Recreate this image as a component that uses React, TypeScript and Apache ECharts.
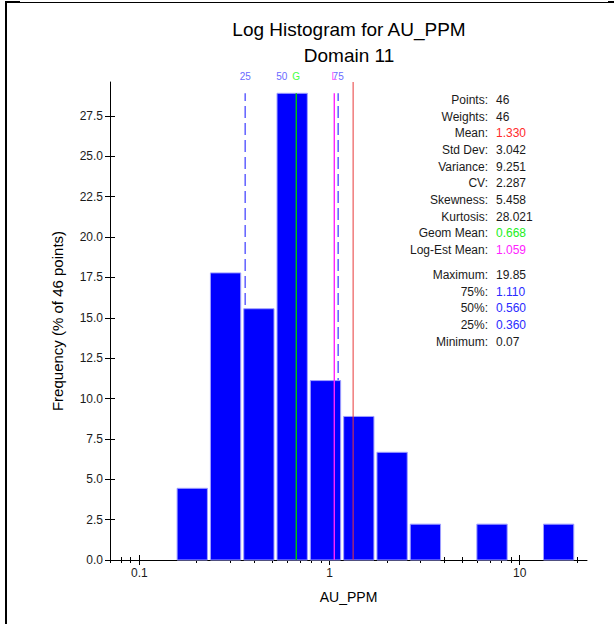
import { useEffect, useRef } from "react";
import * as echarts from "echarts";

// ---- data ----
const binMin = 0.07;
const binMax = 19.85;
const binFreq = [0, 0, 4.44, 17.78, 15.56, 28.9, 11.11, 8.89, 6.67, 2.22, 0, 2.22, 0, 2.22];
const xAxisMin = 0.07;
const xAxisMax = 22.6;
const yAxisMax = 29.6;
const refTop = 28.9;
const yTicks = [0, 2.5, 5, 7.5, 10, 12.5, 15, 17.5, 20, 22.5, 25, 27.5];
const xMajorTicks = [0.1, 1, 10];
const xMinorTicks = [0.07, 0.08, 0.09, 0.2, 0.3, 0.4, 0.5, 0.6, 0.7, 0.8, 0.9, 2, 3, 4, 5, 6, 7, 8, 9, 20];
const refValues = [0.36, 0.56, 1.11, 0.668, 1.059, 1.33];
const refLabels = ["25", "50", "75", "G", "L", ""];
const refKinds = ["q", "q", "q", "geom", "logest", "mean"];
const statLabels = ["Points:", "Weights:", "Mean:", "Std Dev:", "Variance:", "CV:", "Skewness:", "Kurtosis:", "Geom Mean:", "Log-Est Mean:"];
const statValues = ["46", "46", "1.330", "3.042", "9.251", "2.287", "5.458", "28.021", "0.668", "1.059"];
const statKinds = ["", "", "mean", "", "", "", "", "", "geom", "logest"];
const pctLabels = ["Maximum:", "75%:", "50%:", "25%:", "Minimum:"];
const pctValues = ["19.85", "1.110", "0.560", "0.360", "0.07"];
const pctKinds = ["", "q", "q", "q", ""];

const FONT = "'Liberation Sans', Arial, sans-serif";
const kindColor: Record<string, string> = {
  "": "#1a1a1a",
  mean: "#ff2a2a",
  geom: "#22ee22",
  logest: "#ff22ff",
  q: "#2a2aff",
};
const labelColor: Record<string, string> = {
  q: "#6a6aff",
  geom: "#44ff44",
  logest: "#ff55ff",
  mean: "#ff3333",
};

const lg = (v: number) => Math.log10(v);

export default function App() {
  const ref = useRef<HTMLDivElement>(null);
  useEffect(() => {
    if (!ref.current) return;
    const chart = echarts.init(ref.current, undefined, { renderer: "svg" });
    const lMin = lg(binMin);
    const w = (lg(binMax) - lMin) / binFreq.length;
    const barData = binFreq.map((f, i) => [lMin + i * w, lMin + (i + 1) * w, f]);
    const refData = refValues.map((v, i) => [lg(v), i]);

    const xBase = {
      type: "value",
      min: lg(xAxisMin),
      max: lg(xAxisMax),
      position: "bottom",
      offset: 0,
      splitLine: { show: false },
      axisLine: { show: false, onZero: false },
      axisLabel: { show: false },
    };
    const yBase = {
      type: "value",
      min: 0,
      max: yAxisMax,
      interval: 2.5,
      position: "left",
      offset: 0,
      splitLine: { show: false },
      axisLine: { show: false, onZero: false },
      axisLabel: { show: false },
    };

    const graphics: any[] = [
      { type: "rect", shape: { x: 5, y: 2, width: 2, height: 622 }, style: { fill: "#000" } },
      { type: "rect", shape: { x: 5, y: 2, width: 609, height: 1 }, style: { fill: "#000" } },
      { type: "rect", shape: { x: 5, y: 1, width: 15, height: 2 }, style: { fill: "#000" } },
      { type: "rect", shape: { x: 608, y: 1, width: 6, height: 2 }, style: { fill: "#000" } },
      {
        type: "text",
        x: 349,
        y: 29,
        style: { text: "Log Histogram for AU_PPM", align: "center", verticalAlign: "middle", fontSize: 19, fontFamily: FONT, fill: "#000" },
      },
      {
        type: "text",
        x: 349,
        y: 55,
        style: { text: "Domain 11", align: "center", verticalAlign: "middle", fontSize: 19, fontFamily: FONT, fill: "#000" },
      },
    ];
    const addStat = (lab: string, val: string, kind: string, y: number) => {
      graphics.push({
        type: "text",
        x: 488,
        y,
        style: { text: lab, align: "right", verticalAlign: "middle", fontSize: 12, fontFamily: FONT, fill: "#1a1a1a" },
      });
      graphics.push({
        type: "text",
        x: 496,
        y,
        style: { text: val, align: "left", verticalAlign: "middle", fontSize: 12, fontFamily: FONT, fill: kindColor[kind] },
      });
    };
    statLabels.forEach((l, i) => addStat(l, statValues[i], statKinds[i], 100 + i * 16.67));
    pctLabels.forEach((l, i) => addStat(l, pctValues[i], pctKinds[i], 275 + i * 16.67));

    const refRender = (solid: boolean) => (params: any, api: any) => {
      const idx = api.value(1);
      const kind = refKinds[idx];
      const isSolid = kind !== "q";
      if (isSolid !== solid) return { type: "group", children: [] };
      const x = api.value(0);
      const top = kind === "mean" ? yAxisMax : refTop;
      const p0 = api.coord([x, 0]);
      const p1 = api.coord([x, top]);
      const children: any[] = [
        {
          type: "line",
          shape: { x1: p0[0], y1: p0[1], x2: p1[0], y2: p1[1] },
          style: {
            stroke: kind === "q" ? "#6a6aff" : kind === "geom" ? "#00cc00" : kind === "logest" ? "#ff22ff" : "#e83a3a",
            lineWidth: kind === "q" ? 1.6 : kind === "mean" ? 1 : 1.4,
            lineDash: kind === "q" ? [12, 5] : null,
          },
        },
      ];
      if (refLabels[idx]) {
        children.push({
          type: "text",
          style: {
            text: refLabels[idx],
            x: p0[0],
            y: 76,
            align: "center",
            verticalAlign: "middle",
            fontSize: 10,
            fontFamily: FONT,
            fill: labelColor[kind],
          },
        });
      }
      return { type: "group", children };
    };

    chart.setOption({
      animation: false,
      textStyle: { fontFamily: FONT },
      grid: { left: 110, right: 27, top: 82, bottom: 64, containLabel: false },
      xAxis: [
        {
          ...xBase,
          axisLine: { show: true, onZero: false, lineStyle: { color: "#000", width: 1 } },
          axisTick: { show: true, length: 5, lineStyle: { color: "#000" }, customValues: xMajorTicks.map(lg) },
          axisLabel: {
            show: true,
            customValues: xMajorTicks.map(lg),
            formatter: (v: number) => String(Number(Math.pow(10, v).toPrecision(3))),
            fontSize: 12,
            color: "#1a1a1a",
            margin: 7,
            fontFamily: FONT,
          },
          name: "AU_PPM",
          nameLocation: "middle",
          nameGap: 30,
          nameTextStyle: { fontSize: 14, color: "#000", fontFamily: FONT },
        },
        { ...xBase, axisTick: { show: true, inside: true, length: 5, lineStyle: { color: "#000" }, customValues: xMajorTicks.map(lg) } },
        { ...xBase, axisTick: { show: true, length: 3, lineStyle: { color: "#000" }, customValues: xMinorTicks.map(lg) } },
        { ...xBase, axisTick: { show: true, inside: true, length: 3, lineStyle: { color: "#000" }, customValues: xMinorTicks.map(lg) } },
      ],
      yAxis: [
        {
          ...yBase,
          axisLine: { show: true, onZero: false, lineStyle: { color: "#000", width: 1 } },
          axisTick: { show: true, length: 5, lineStyle: { color: "#000" }, customValues: yTicks },
          axisLabel: {
            show: true,
            customValues: yTicks,
            formatter: (v: number) => v.toFixed(1),
            fontSize: 12,
            color: "#1a1a1a",
            margin: 7,
            fontFamily: FONT,
          },
          name: "Frequency (% of 46 points)",
          nameLocation: "middle",
          nameGap: 45,
          nameRotate: 90,
          nameTextStyle: { fontSize: 15, color: "#000", fontFamily: FONT },
        },
        { ...yBase, axisTick: { show: true, inside: true, length: 5, lineStyle: { color: "#000" }, customValues: yTicks } },
      ],
      series: [
        {
          type: "custom",
          z: 1,
          xAxisIndex: 0,
          yAxisIndex: 0,
          data: refData,
          encode: { x: 0, y: 1 },
          renderItem: refRender(false),
          silent: true,
        },
        {
          type: "custom",
          z: 2,
          xAxisIndex: 0,
          yAxisIndex: 0,
          data: barData,
          encode: { x: [0, 1], y: 2 },
          renderItem: (params: any, api: any) => {
            const v = api.value(2);
            if (!v) return { type: "group", children: [] };
            const p0 = api.coord([api.value(0), v]);
            const p1 = api.coord([api.value(1), 0]);
            return {
              type: "rect",
              shape: { x: p0[0] + 0.5, y: p0[1], width: p1[0] - p0[0] - 3, height: p1[1] - p0[1] },
              style: { fill: "#0000ff", stroke: "#a0a0ff", lineWidth: 1 },
            };
          },
        },
        {
          type: "custom",
          z: 3,
          xAxisIndex: 0,
          yAxisIndex: 0,
          data: refData,
          encode: { x: 0, y: 1 },
          renderItem: refRender(true),
          silent: true,
        },
      ],
      graphic: graphics,
    });
    return () => chart.dispose();
  }, []);
  return <div ref={ref} style={{ position: "fixed", left: 0, top: 0, width: 614, height: 624, background: "#fff" }} />;
}
